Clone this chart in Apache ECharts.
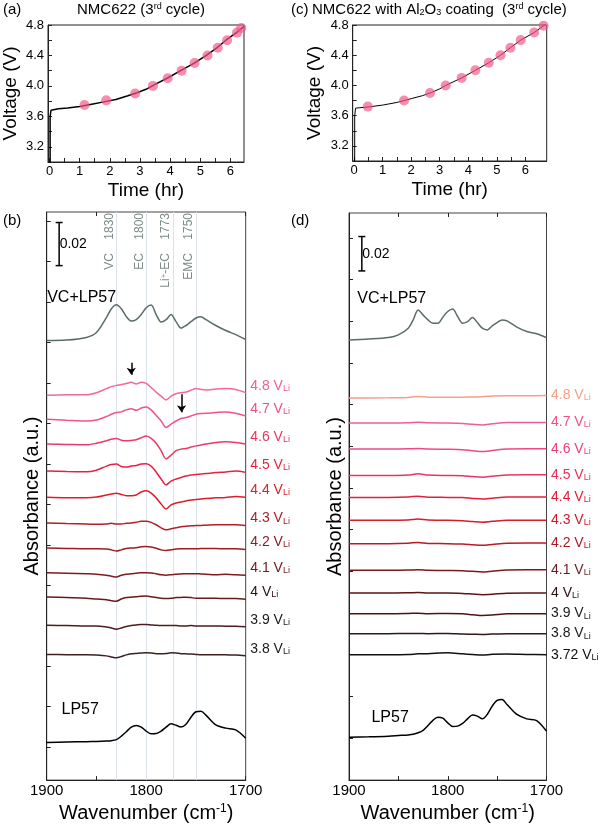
<!DOCTYPE html>
<html>
<head>
<meta charset="utf-8">
<script src="https://cdn.jsdelivr.net/npm/echarts@6/dist/echarts.min.js"></script>
<style>
html,body{margin:0;padding:0;background:#fff;}
#chart{width:600px;height:828px;}
</style>
</head>
<body>
<div id="chart"></div>
<script>
// ================= DATA =================
// (a) NMC622, 3rd cycle: voltage vs time
const timeA = [0.02,0.02,0.05,0.1,0.3,0.6,1.0,1.4,1.8,2.2,2.6,2.9,3.2,3.5,3.9,4.35,4.8,5.2,5.55,5.85,6.2,6.45];
const voltA = [2.9,3.60,3.68,3.69,3.70,3.71,3.73,3.76,3.79,3.82,3.87,3.91,3.955,4.02,4.10,4.20,4.30,4.40,4.50,4.60,4.70,4.78];
const markTimeA = [1.16,1.88,2.84,3.43,3.92,4.38,4.81,5.24,5.58,5.89,6.22,6.36];
const markVoltA = [3.75,3.81,3.90,4.00,4.10,4.20,4.30,4.40,4.50,4.60,4.70,4.76];

// (c) NMC622 with Al2O3 coating, 3rd cycle
const timeC = [0.02,0.02,0.05,0.2,0.5,1.0,1.5,2.0,2.4,2.7,3.0,3.21,3.77,4.25,4.72,5.13,5.48,5.84,6.31,6.64,6.75];
const voltC = [2.9,3.60,3.70,3.705,3.715,3.74,3.775,3.825,3.865,3.905,3.955,4.00,4.10,4.20,4.30,4.40,4.50,4.60,4.70,4.79,4.82];
const markTimeC = [0.48,1.75,2.66,3.21,3.77,4.25,4.72,5.13,5.48,5.84,6.31,6.64];
const markVoltC = [3.72,3.80,3.90,4.00,4.10,4.20,4.30,4.40,4.50,4.60,4.70,4.79];

// tick labels
const timeTicks = [0,1,2,3,4,5,6];
const timeTicksMinor = [0,0.5,1,1.5,2,2.5,3,3.5,4,4.5,5,5.5,6];
const voltTicks = [3.2,3.6,4.0,4.4,4.8];
const voltTicksMinor = [3.2,3.4,3.6,3.8,4.0,4.2,4.4,4.6,4.8];
const wnTicks = [1900,1800,1700];
const wnTicksMinor = [1900,1850,1800,1750,1700];
const absTicksB = [0,20,40,60,80,100,120,140,160,180,200,220,240,260];
const absTicksD = [0,20,40,60,80,100,120,140,160,180,200,220,240];

// wavenumber grids (cm-1)
const wnFull = [1900,1880,1860,1850,1840,1835,1830,1825,1820,1815,1810,1805,1800,1795,1790,1785,1780,1775,1770,1765,1760,1755,1750,1745,1740,1730,1720,1710,1700];
const wnFlat = [1900,1860,1840,1830,1820,1800,1785,1775,1765,1755,1740,1720,1700];

// (b) stacked absorbance (offset, x1e-3)
const bVC  = [201.0,201.2,202.5,204.9,212.3,216.7,218.7,216.7,212.8,210.6,211.3,213.8,217.2,218.5,213.8,210.1,211.3,213.8,210.3,207.1,208.4,210.3,212.1,212.7,211.3,208.4,205.9,203.9,201.5];
const b48  = [173.9,174.2,174.2,175.2,177.2,178.2,178.8,179.2,179.7,180.4,179.5,180.4,179.8,177.7,175.5,173.5,171.6,173.5,174.7,175.2,175.5,176.4,177.2,176.8,176.5,177.0,177.2,176.8,175.2];
const b47  = [162.1,161.6,161.2,161.7,163.4,164.5,165.4,165.7,166.7,167.3,166.5,167.6,168.1,166.7,164.0,161.2,158.0,159.6,161.2,162.4,162.9,163.7,164.5,164.9,165.0,165.4,165.7,165.0,163.7];
const b46  = [149.8,149.6,149.4,150.2,151.4,152.2,152.6,151.7,151.4,151.6,151.9,152.9,153.8,152.6,150.2,146.5,142.4,144.3,146.5,147.3,147.6,148.3,148.9,149.3,149.8,150.6,150.9,150.6,149.8];
const b45  = [136.5,136.2,136.1,136.9,138.9,139.7,139.9,138.7,138.4,138.9,139.2,139.9,140.1,138.9,136.0,132.5,129.6,131.5,132.5,133.3,134.0,134.5,134.7,135.0,135.2,135.7,136.0,136.5,135.8];
const b44  = [123.5,123.3,123.3,123.6,124.6,125.1,125.5,124.9,124.3,124.3,124.6,126.1,126.7,125.6,123.2,120.2,117.7,119.7,120.7,121.2,121.7,122.2,122.4,122.7,122.9,123.2,123.4,123.9,123.5];
const b43  = [110.8,110.5,110.3,110.1,110.3,110.6,110.3,110.3,110.6,110.8,111.2,111.6,111.7,111.1,109.9,108.4,107.4,107.9,108.4,108.9,109.2,109.4,109.5,109.6,109.7,109.9,109.9,109.9,109.5];
const b42  = [98.4,98.2,98.0,98.0,97.9,97.5,96.9,97.5,98.2,98.4,98.5,99.0,99.2,98.9,98.3,97.5,97.2,97.5,97.9,98.0,98.0,98.0,98.0,98.2,98.2,98.2,98.0,98.0,97.7];
const b41  = [86.2,86.0,85.7,85.5,85.0,84.5,84.1,85.0,85.5,85.7,86.0,86.2,86.2,86.1,85.7,85.2,85.0,85.2,85.5,85.6,85.7,85.7,85.7,85.6,85.5,85.2,85.4,85.2,84.9];
const b40  = [74.2,73.9,73.6,73.2,72.9,72.4,72.1,73.2,73.9,74.1,74.3,74.6,74.7,74.3,73.9,73.6,73.5,73.6,73.9,74.0,74.1,73.9,73.6,73.6,73.6,73.6,73.4,73.4,73.1];
const b39  = [60.2,60.1,59.9,59.9,59.4,58.9,58.3,58.9,59.6,60.1,60.4,60.6,60.6,60.4,60.2,60.1,60.1,60.1,60.1,59.9,59.9,60.1,59.9,59.9,59.9,59.9,59.8,59.8,59.5];
const b38  = [45.8,45.7,45.7,45.5,45.1,44.6,44.2,44.8,45.6,46.1,46.3,46.5,46.6,46.5,46.2,46.2,46.3,46.6,46.5,46.2,46.1,46.0,45.8,45.6,45.6,45.7,45.6,45.5,45.2];
const bLP  = [2.3,2.5,2.7,2.8,3.0,3.2,3.7,5.4,7.6,9.9,10.7,9.9,7.9,6.6,6.7,7.9,9.9,11.5,10.8,9.9,11.3,14.8,17.5,17.7,15.8,11.0,9.4,8.5,4.4];

// (d) stacked absorbance, Al2O3-coated (offset, x1e-3)
const dVC  = [191.1,191.5,192.2,193.5,196.7,200.7,205.5,203.1,200.7,199.1,199.1,202.0,204.7,205.9,202.3,199.1,199.9,201.8,199.4,196.7,195.9,197.8,199.4,200.7,200.2,197.2,195.1,194.0,192.1];
const d48  = [163.2,163.3,163.5,163.9,163.6,163.6,163.6,163.7,163.8,164.2,164.3,164.3,164.4];
const d47  = [151.2,151.2,151.3,151.6,151.3,151.2,151.0,150.6,150.3,150.8,151.4,151.5,151.5];
const d46  = [138.7,138.7,138.8,139.0,138.7,138.6,138.4,137.9,137.5,138.0,138.7,138.8,138.8];
const d45  = [126.0,126.0,126.2,126.8,126.2,126.0,125.9,125.5,125.2,125.6,126.3,126.4,126.4];
const d44  = [115.5,115.5,115.7,116.1,115.6,115.5,115.4,115.0,114.7,115.1,115.7,115.7,115.7];
const d43  = [104.5,104.5,104.7,105.1,104.6,104.5,104.3,103.9,103.6,104.0,104.5,104.5,104.5];
const d42  = [93.3,93.3,93.5,93.9,93.4,93.3,93.1,92.8,92.5,92.9,93.5,93.6,93.6];
const d41  = [80.5,80.5,80.6,80.8,80.5,80.4,80.3,80.0,79.7,80.1,80.7,80.8,80.8];
const d40  = [69.6,69.6,69.7,69.8,69.6,69.6,69.4,69.1,68.8,69.0,69.5,69.6,69.6];
const d39  = [59.7,59.7,59.8,59.9,59.7,59.8,59.6,59.2,58.8,59.0,59.6,59.7,59.7];
const d38  = [50.1,50.1,50.2,50.2,50.1,50.2,49.9,49.8,49.7,49.9,50.1,50.1,50.1];
const d372 = [40.0,40.0,40.1,40.4,40.5,40.9,40.4,40.1,39.8,40.2,40.3,40.1,40.0];
const dLP  = [0.4,0.6,0.9,1.2,1.5,1.8,2.5,3.7,6.0,8.5,10.0,9.5,7.3,5.5,5.7,7.0,9.2,11.1,10.5,9.2,11.3,15.3,18.1,18.5,16.1,11.3,9.2,8.4,3.3];

// reference band positions (cm-1)
const guideWn = [1830,1800,1773,1750];
const guideName = ['VC','EC','Li{sp|+}-EC','EMC'];
// annotation read-offs
const scaleBarB = [238.0,259.3];  // 0.02 bar in (b)
const scaleBarD = [224.2,240.7];  // 0.02 bar in (d)
const arrowsB = [[1815,190,184],[1764.5,174.4,165.5]];

// ================= STYLE / BUILD =================
const FONT = 'Liberation Sans, Arial, Helvetica, sans-serif';
const zip = (xs, ys) => xs.map((x, i) => [x, ys[i]]);

const seriesB = [
  {v:'4.8', x:wnFull, y:b48, c:'#f2699a', lc:'#f2608e'},
  {v:'4.7', x:wnFull, y:b47, c:'#f05585', lc:'#ef4f7f'},
  {v:'4.6', x:wnFull, y:b46, c:'#ea3a66', lc:'#e8385f'},
  {v:'4.5', x:wnFull, y:b45, c:'#e6223f', lc:'#e52340'},
  {v:'4.4', x:wnFull, y:b44, c:'#dc1d2b', lc:'#dc1e2c'},
  {v:'4.3', x:wnFull, y:b43, c:'#b41e28', lc:'#a81e28'},
  {v:'4.2', x:wnFull, y:b42, c:'#9c1c25', lc:'#8f1b24'},
  {v:'4.1', x:wnFull, y:b41, c:'#801a22', lc:'#6d1820'},
  {v:'4',   x:wnFull, y:b40, c:'#6a1a1a', lc:'#2a1010'},
  {v:'3.9', x:wnFull, y:b39, c:'#4e1c1c', lc:'#1a1a1a'},
  {v:'3.8', x:wnFull, y:b38, c:'#3a2222', lc:'#1a1a1a'}
];
const seriesD = [
  {v:'4.8',  x:wnFlat, y:d48,  c:'#f5a08a', lc:'#f5a08a'},
  {v:'4.7',  x:wnFlat, y:d47,  c:'#f25c96', lc:'#f0508a'},
  {v:'4.6',  x:wnFlat, y:d46,  c:'#ef4a80', lc:'#ec3f76'},
  {v:'4.5',  x:wnFlat, y:d45,  c:'#ea3560', lc:'#e8305a'},
  {v:'4.4',  x:wnFlat, y:d44,  c:'#e41f3a', lc:'#e01c36'},
  {v:'4.3',  x:wnFlat, y:d43,  c:'#d71c2c', lc:'#cf1a2a'},
  {v:'4.2',  x:wnFlat, y:d42,  c:'#b81a26', lc:'#b01826'},
  {v:'4.1',  x:wnFlat, y:d41,  c:'#7e1820', lc:'#6a1a20'},
  {v:'4',    x:wnFlat, y:d40,  c:'#5a1515', lc:'#2a1010'},
  {v:'3.9',  x:wnFlat, y:d39,  c:'#4a1515', lc:'#1a1a1a'},
  {v:'3.8',  x:wnFlat, y:d38,  c:'#301818', lc:'#1a1a1a'},
  {v:'3.72', x:wnFlat, y:d372, c:'#111111', lc:'#111111'}
];

function voltSeries(s, xi, yi, dy) {
  const last = s.x.length - 1;
  return {
    type:'line', xAxisIndex:xi, yAxisIndex:yi, smooth:0.3, symbol:'none',
    data: zip(s.x, s.y), lineStyle:{color:s.c, width:1.5}, itemStyle:{color:s.c},
    markPoint:{
      silent:true, symbol:'circle', symbolSize:1, itemStyle:{color:'rgba(0,0,0,0)'},
      data:[{coord:[s.x[last], s.y[last]]}],
      label:{show:true, position:'right', distance:4, offset:[0, dy],
        formatter: () => '{m|' + s.v + ' V}{s|Li}',
        rich:{ m:{fontSize:14, color:s.lc, fontFamily:FONT},
               s:{fontSize:9, color:s.lc, fontFamily:FONT, verticalAlign:'bottom', lineHeight:10}}}
    }
  };
}

function textPoint(x, y, txt, size) {
  return {silent:true, symbol:'circle', symbolSize:1, itemStyle:{color:'rgba(0,0,0,0)'},
    data:[{coord:[x, y]}],
    label:{show:true, position:'right', distance:0, formatter:() => txt, color:'#000', fontSize:size, fontFamily:FONT}};
}

function scaleBar(xi, yi, x, bar) {
  return {
    type:'line', xAxisIndex:xi, yAxisIndex:yi, data:[[x, bar[0]],[x, bar[1]]],
    symbol:'rect', symbolSize:[7,1.5], showSymbol:true,
    lineStyle:{color:'#000', width:1.5}, itemStyle:{color:'#000'},
    markPoint: textPoint(x, (bar[0]+bar[1])/2, '0.02', 14)
  };
}

const series = [];
// (a)
series.push({type:'line', xAxisIndex:0, yAxisIndex:0, data:zip(timeA, voltA), symbol:'none', lineStyle:{color:'#000', width:1.5}, z:2});
series.push({type:'scatter', xAxisIndex:0, yAxisIndex:0, data:zip(markTimeA, markVoltA), symbolSize:10, clip:false, itemStyle:{color:'rgba(243,86,134,0.85)'}, z:3});
// (c)
series.push({type:'line', xAxisIndex:1, yAxisIndex:1, data:zip(timeC, voltC), symbol:'none', lineStyle:{color:'#000', width:1}, z:2});
series.push({type:'scatter', xAxisIndex:1, yAxisIndex:1, data:zip(markTimeC, markVoltC), symbolSize:10, clip:false, itemStyle:{color:'rgba(243,86,134,0.85)'}, z:3});

// (b)
series.push({type:'line', xAxisIndex:2, yAxisIndex:2, smooth:0.3, symbol:'none', data:zip(wnFull, bVC),
  lineStyle:{color:'#5a6d65', width:1.5}, markPoint:textPoint(1900, 222.2, 'VC+LP57', 16)});
seriesB.forEach((s, i) => {
  const ser = voltSeries(s, 2, 2, -7);
  if (i === 0) {
    ser.markLine = {silent:true, symbol:['none','arrow'], symbolSize:7,
      lineStyle:{color:'#000', width:1.5, type:'solid'}, label:{show:false},
      data: arrowsB.map(a => [{coord:[a[0], a[1]]},{coord:[a[0], a[2]]}])};
  }
  series.push(ser);
});
series.push({type:'line', xAxisIndex:2, yAxisIndex:2, smooth:0.3, symbol:'none', data:zip(wnFull, bLP),
  lineStyle:{color:'#000', width:1.5}, markPoint:textPoint(1885.6, 18.4, 'LP57', 16), z:3,
  markLine:{silent:true, symbol:'none', z:1,
    lineStyle:{color:'#dde3ec', width:1, type:'solid'},
    label:{show:true, position:'insideEndTop', distance:1, color:'#7d8c88', fontSize:12, fontFamily:FONT,
      rich:{sp:{fontSize:8, verticalAlign:'top', color:'#7d8c88', fontFamily:FONT}}},
    data: guideWn.map((w, i) => ({xAxis:w, label:{formatter: () => guideName[i] + '    ' + w}}))}});
series.push(scaleBar(2, 2, 1887.5, scaleBarB));

// (d)
series.push({type:'line', xAxisIndex:3, yAxisIndex:3, smooth:0.3, symbol:'none', data:zip(wnFull, dVC),
  lineStyle:{color:'#5a6d65', width:1.5}, markPoint:textPoint(1892.1, 211.1, 'VC+LP57', 16)});
seriesD.forEach(s => series.push(voltSeries(s, 3, 3, 0)));
series.push({type:'line', xAxisIndex:3, yAxisIndex:3, smooth:0.3, symbol:'none', data:zip(wnFull, dLP),
  lineStyle:{color:'#000', width:1.5}, markPoint:textPoint(1877.8, 9.7, 'LP57', 16)});
series.push(scaleBar(3, 3, 1887, scaleBarD));

const axisCommon = {
  splitLine:{show:false},
  axisLine:{show:true, onZero:false, lineStyle:{color:'#222', width:1}},
  axisTick:{show:true, inside:true, length:4, lineStyle:{color:'#222'}},
  axisLabel:{color:'#000', fontFamily:FONT},
  nameTextStyle:{color:'#000', fontFamily:FONT}
};
function mk(base, extra) {
  const o = JSON.parse(JSON.stringify(base));
  for (const k in extra) {
    if (typeof extra[k] === 'object' && !Array.isArray(extra[k]) && o[k]) Object.assign(o[k], extra[k]);
    else o[k] = extra[k];
  }
  return o;
}

const timeX = (gi, max) => mk(axisCommon, {
  type:'value', gridIndex:gi, min:-0.05, max:max,
  axisTick:{customValues:timeTicksMinor}, axisLabel:{customValues:timeTicks, fontSize:13, margin:3, formatter:v => String(v)},
  name:'Time (hr)', nameLocation:'middle', nameGap:19, nameTextStyle:{fontSize:19}
});
const voltY = gi => mk(axisCommon, {
  type:'value', gridIndex:gi, min:3.0, max:4.8,
  axisTick:{customValues:voltTicksMinor},
  axisLabel:{customValues:voltTicks, fontSize:13, margin:4, formatter:v => v.toFixed(1)},
  name:'Voltage (V)', nameLocation:'middle', nameGap:28, nameTextStyle:{fontSize:19}
});
const wnX = gi => mk(axisCommon, {
  type:'value', gridIndex:gi, min:1700, max:1900, inverse:true,
  axisTick:{customValues:wnTicksMinor}, axisLabel:{customValues:wnTicks, fontSize:15, margin:3, formatter:v => String(v)},
  name:'Wavenumber (cm{sp|-1})', nameLocation:'middle', nameGap:22,
  nameTextStyle:{fontSize:20, rich:{sp:{fontSize:12, verticalAlign:'top', fontFamily:FONT, color:'#000'}}}
});
const wnTop = gi => mk(axisCommon, {
  type:'value', gridIndex:gi, position:'top', min:1700, max:1900, inverse:true,
  axisLine:{show:false}, axisTick:{customValues:wnTicksMinor}, axisLabel:{show:false}
});
const absY = (gi, min, max, ticks) => mk(axisCommon, {
  type:'value', gridIndex:gi, min:min, max:max,
  axisTick:{customValues:ticks}, axisLabel:{show:false},
  name:'Absorbance (a.u.)', nameLocation:'middle', nameGap:4, nameTextStyle:{fontSize:20}
});

const titleStyle = {fontSize:15, fontWeight:'normal', color:'#000', fontFamily:FONT,
  rich:{sup:{fontSize:9, verticalAlign:'top', color:'#000', fontFamily:FONT},
        sub:{fontSize:9, verticalAlign:'bottom', color:'#000', fontFamily:FONT}}};

const option = {
  animation:false,
  backgroundColor:'#fff',
  textStyle:{fontFamily:FONT},
  title:[
    {text:'(a)', left:3, top:2, padding:0, textStyle:titleStyle},
    {text:'NMC622 (3{sup|rd} cycle)', left:77, top:2, padding:0, textStyle:titleStyle},
    {text:'(c)', left:291, top:2, padding:0, textStyle:titleStyle},
    {text:'NMC622 with Al{sub|2}O{sub|3} coating  (3{sup|rd} cycle)', left:312, top:2, padding:0, textStyle:titleStyle},
    {text:'(b)', left:3, top:213, padding:0, textStyle:titleStyle},
    {text:'(d)', left:291, top:213, padding:0, textStyle:titleStyle}
  ],
  grid:[
    {left:48, top:25, width:196, height:137, show:true, borderColor:'#222', borderWidth:1},
    {left:352.7, top:25, width:194, height:136, show:true, borderColor:'#222', borderWidth:1},
    {left:46.7, top:212, width:199, height:570, show:true, borderColor:'#444', borderWidth:1},
    {left:349, top:213, width:197.5, height:567.7, show:true, borderColor:'#444', borderWidth:1}
  ],
  xAxis:[timeX(0, 6.45), timeX(1, 6.75), wnX(2), wnX(3), wnTop(2), wnTop(3)],
  yAxis:[voltY(0), voltY(1), absY(2, -16.3, 264.5, absTicksB), absY(3, -20.2, 252.0, absTicksD)],
  series: series
};

const chart = echarts.init(document.getElementById('chart'), null, {renderer:'canvas'});
chart.setOption(option);
</script>
</body>
</html>
